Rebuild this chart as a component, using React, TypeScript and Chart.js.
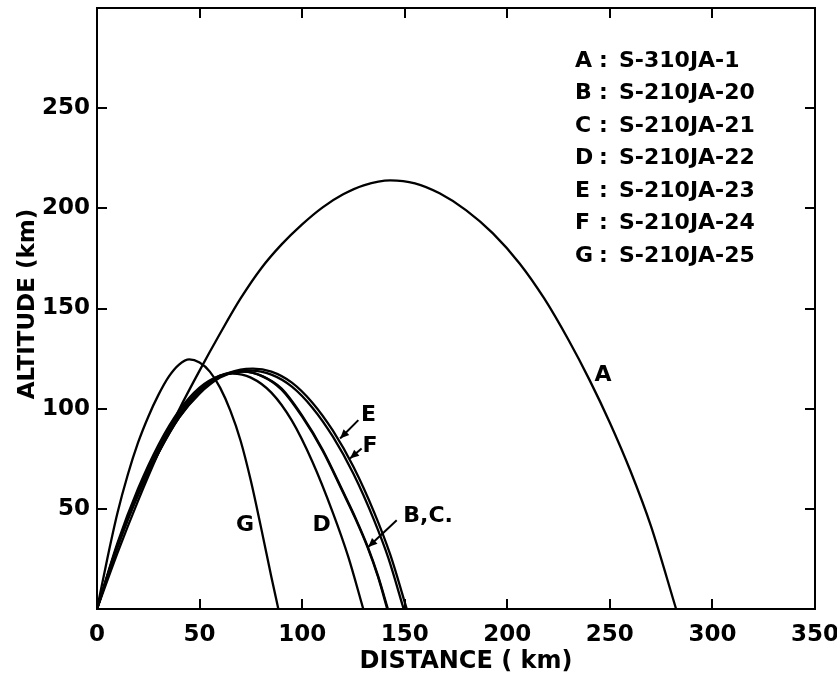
import React, { useEffect, useRef } from 'react';
import { Chart, registerables } from 'chart.js';

Chart.register(...registerables);

// ---- data ----
const xTickValues = [0, 50, 100, 150, 200, 250, 300, 350];
const yTickValues = [50, 100, 150, 200, 250];
const seriesKeys = ['A', 'B', 'C', 'D', 'E', 'F', 'G'];
const vehicleNames = ['S-310JA-1', 'S-210JA-20', 'S-210JA-21', 'S-210JA-22', 'S-210JA-23', 'S-210JA-24', 'S-210JA-25'];

const distA = [0, 10, 20, 30, 40, 50, 60, 70, 80, 90, 100, 110, 120, 130, 143, 155, 167, 180, 193, 206, 218, 230, 240, 250, 260, 270, 282.3];
const altA = [0, 28, 54, 78, 99.5, 119, 137.5, 155, 170, 182, 192, 200.5, 207, 211.5, 214, 212.5, 207.5, 199, 187.5, 172.5, 155, 134, 114.5, 93, 69, 41.5, 0];

const distB = [0, 10, 20, 30, 40, 50, 60, 71, 80, 90, 100, 110, 120, 126, 132, 137, 141.5];
const altB = [0, 32, 58.5, 80, 97, 109, 116, 118.5, 116.5, 109.5, 96, 79, 58, 45, 30.5, 16, 0];

const distC = [0, 10, 20, 30, 40, 50, 60, 72, 81, 90, 100, 110, 120, 126, 132, 137, 141.8];
const altC = [0, 32, 58.5, 80, 97.5, 109.5, 116.5, 118.5, 116, 110, 96.5, 79.5, 58.5, 45.5, 31, 16.5, 0];

const distD = [0, 10, 20, 30, 40, 50, 60, 66, 75, 85, 95, 105, 115, 122.5, 129.8];
const altD = [0, 33, 60, 82, 99, 110.5, 116.5, 117.5, 115.5, 108, 94, 73.5, 48, 26, 0];

const distE = [0, 10, 20, 30, 40, 50, 60, 70, 76, 85, 95, 105, 115, 125, 135, 143, 151];
const altE = [0, 31, 57, 78, 95.5, 108, 116, 119.5, 120, 118.5, 113, 103, 89, 71, 48.5, 27, 0];

const distF = [0, 10, 20, 30, 40, 50, 60, 68, 75, 85, 95, 105, 115, 125, 135, 142, 149.5];
const altF = [0, 31, 57, 78, 95.5, 107.5, 115.5, 118.5, 119, 117, 111, 100.5, 86, 67.5, 44.5, 25.5, 0];

const distG = [0, 5, 10, 15, 20, 25, 30, 35, 40, 45, 50, 55, 60, 65, 70, 75, 80, 85, 88.4];
const altG = [0, 25, 48, 67, 83, 96, 107, 116, 122, 124.6, 123, 118.5, 110.5, 99, 84, 64, 40.5, 16, 0];

const seriesDist = [distA, distB, distC, distD, distE, distF, distG];
const seriesAlt = [altA, altB, altC, altD, altE, altF, altG];

// ---- annotation layout (data coordinates) ----
const curveLabels = [
  { text: 'A', x: 246.7, y: 116.8 },
  { text: 'G', x: 72.1, y: 41.9 },
  { text: 'D', x: 109.5, y: 41.9 },
  { text: 'E', x: 132.3, y: 96.8 },
  { text: 'F', x: 133.1, y: 81 },
  { text: 'B,C.', x: 161.4, y: 46.4 },
];
const arrows = [
  { x1: 127.4, y1: 94.3, x2: 118.5, y2: 85.1 },
  { x1: 129, y1: 80.1, x2: 123.3, y2: 75.1 },
  { x1: 146.1, y1: 44.3, x2: 132.2, y2: 30.9 },
];

const FONT = '"DejaVu Sans", sans-serif';

const decorPlugin = {
  id: 'decor',
  afterDraw(chart: any) {
    const ctx = chart.ctx as CanvasRenderingContext2D;
    const { left, right, top, bottom } = chart.chartArea;
    const xs = chart.scales.x;
    const ys = chart.scales.y;
    ctx.save();
    ctx.strokeStyle = '#000';
    ctx.fillStyle = '#000';
    ctx.lineWidth = 2;
    // frame
    ctx.strokeRect(left, top, right - left, bottom - top);
    // inward ticks
    ctx.beginPath();
    for (const v of xTickValues) {
      if (v === 0 || v === 350) continue;
      const px = Math.round(xs.getPixelForValue(v));
      ctx.moveTo(px, bottom);
      ctx.lineTo(px, bottom - 10);
      ctx.moveTo(px, top);
      ctx.lineTo(px, top + 10);
    }
    for (const v of yTickValues) {
      const py = Math.round(ys.getPixelForValue(v));
      ctx.moveTo(left, py);
      ctx.lineTo(left + 10, py);
      ctx.moveTo(right, py);
      ctx.lineTo(right - 10, py);
    }
    ctx.stroke();

    // curve labels
    ctx.font = `bold 22px ${FONT}`;
    ctx.textAlign = 'center';
    ctx.textBaseline = 'middle';
    for (const l of curveLabels) {
      ctx.fillText(l.text, xs.getPixelForValue(l.x), ys.getPixelForValue(l.y));
    }
    // arrows
    for (const a of arrows) {
      const x1 = xs.getPixelForValue(a.x1), y1 = ys.getPixelForValue(a.y1);
      const x2 = xs.getPixelForValue(a.x2), y2 = ys.getPixelForValue(a.y2);
      const ang = Math.atan2(y2 - y1, x2 - x1);
      ctx.beginPath();
      ctx.moveTo(x1, y1);
      ctx.lineTo(x2, y2);
      ctx.stroke();
      const L = 9, W = 4;
      ctx.beginPath();
      ctx.moveTo(x2, y2);
      ctx.lineTo(x2 - L * Math.cos(ang) + W * Math.sin(ang), y2 - L * Math.sin(ang) - W * Math.cos(ang));
      ctx.lineTo(x2 - L * Math.cos(ang) - W * Math.sin(ang), y2 - L * Math.sin(ang) + W * Math.cos(ang));
      ctx.closePath();
      ctx.fill();
    }

    // legend block
    ctx.textAlign = 'left';
    for (let i = 0; i < seriesKeys.length; i++) {
      const y = top + 53 + i * 32.5;
      ctx.fillText(seriesKeys[i], right - 240, y);
      ctx.fillText(':', right - 216, y);
      ctx.fillText(vehicleNames[i], right - 196, y);
    }

    // axis titles
    ctx.textAlign = 'center';
    ctx.font = `bold 24px ${FONT}`;
    ctx.fillText('DISTANCE ( km)', (left + right) / 2 + 10, 662);
    ctx.save();
    ctx.translate(28, 304);
    ctx.rotate(-Math.PI / 2);
    ctx.font = `bold 23px ${FONT}`;
    ctx.fillText('ALTITUDE (km)', 0, 0);
    ctx.restore();
    ctx.restore();
  },
};

export default function App() {
  const ref = useRef<HTMLCanvasElement>(null);
  useEffect(() => {
    document.body.style.margin = '0';
    const canvas = ref.current!;
    const datasets = seriesKeys.map((k, i) => ({
      label: `${k}: ${vehicleNames[i]}`,
      data: seriesDist[i].map((x, j) => ({ x, y: seriesAlt[i][j] })),
      borderColor: '#000',
      backgroundColor: '#000',
      borderWidth: 2.3,
      pointRadius: 0,
      showLine: true,
      fill: false,
      cubicInterpolationMode: 'monotone' as const,
    }));
    const chart = new Chart(canvas, {
      type: 'scatter',
      data: { datasets },
      options: {
        animation: false,
        responsive: false,
        devicePixelRatio: 1,
        layout: { padding: { left: 0, top: 8, right: 22, bottom: 0 } },
        plugins: { legend: { display: false }, tooltip: { enabled: false } },
        scales: {
          x: {
            type: 'linear',
            min: 0,
            max: 350,
            grid: { display: false, drawTicks: false },
            border: { display: false },
            ticks: {
              stepSize: 50,
              padding: 12,
              color: '#000',
              maxRotation: 0,
              autoSkip: false,
              font: { family: FONT, size: 23, weight: 'bold' },
            },
            afterFit(s: any) {
              s.height = 78;
              s.paddingLeft = 0;
              s.paddingRight = 0;
            },
          },
          y: {
            type: 'linear',
            min: 0,
            max: 300,
            grid: { display: false, drawTicks: false },
            border: { display: false },
            ticks: {
              stepSize: 50,
              padding: 7,
              color: '#000',
              font: { family: FONT, size: 23, weight: 'bold' },
              callback: (v: any) => (v === 0 || v === 300 ? '' : String(v)),
            },
            afterFit(s: any) {
              s.width = 97;
              s.paddingTop = 0;
              s.paddingBottom = 0;
            },
          },
        },
      },
      plugins: [decorPlugin],
    });
    return () => chart.destroy();
  }, []);
  return (
    <canvas ref={ref} width={837} height={687} style={{ display: 'block', width: 837, height: 687 }} />
  );
}
